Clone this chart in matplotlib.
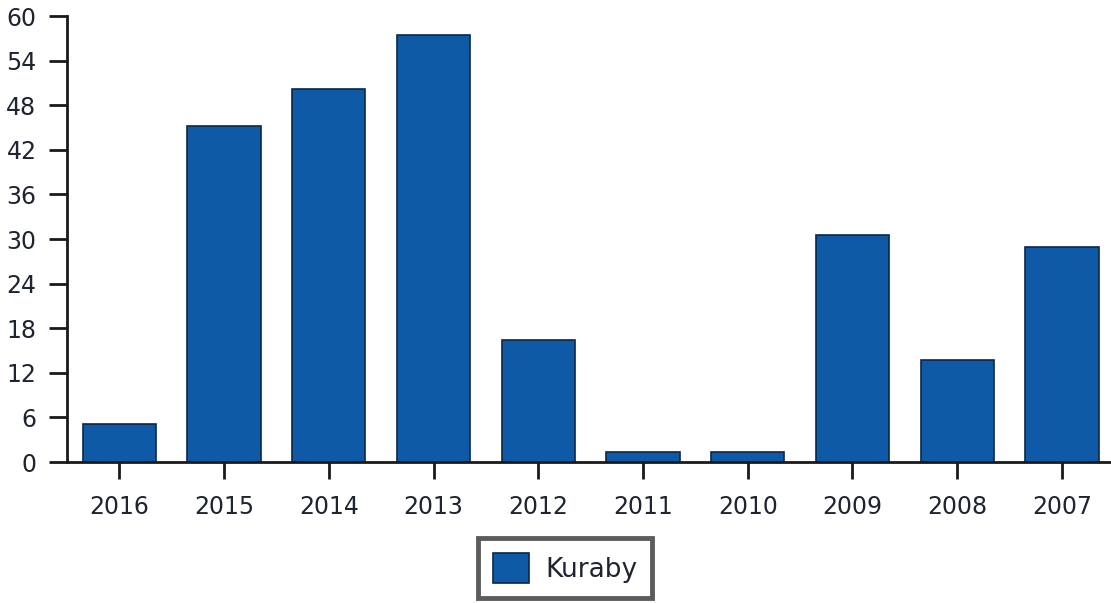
import matplotlib
matplotlib.use("Agg")
import matplotlib.pyplot as plt
import numpy as np

# dane
years = ["2016", "2015", "2014", "2013", "2012", "2011", "2010", "2009", "2008", "2007"]
values = [5.1, 45.2, 50.2, 57.5, 16.4, 1.3, 1.4, 30.5, 13.7, 28.9]
y_ticks = [0, 6, 12, 18, 24, 30, 36, 42, 48, 54, 60]
series_name = "Kuraby"

BAR_COLOR = "#0f5aa6"
EDGE_COLOR = "#0b2748"
TEXT_COLOR = "#1e2430"

fig = plt.figure(figsize=(11.11, 6.03), dpi=100)
ax = fig.add_axes([67 / 1111, 141 / 603, 1 - 67 / 1111 + 0.003, 446 / 603])

x = np.arange(len(years))
ax.bar(x, values, width=0.70, color=BAR_COLOR, edgecolor=EDGE_COLOR,
       linewidth=1.2, label=series_name, zorder=2)

ax.set_xlim(-0.5, len(years) - 0.5)
ax.set_ylim(0, 60)
ax.set_yticks(y_ticks)
ax.set_xticks(x)
ax.set_xticklabels(years)

for s in ["top", "right"]:
    ax.spines[s].set_visible(False)
for s in ["left", "bottom"]:
    ax.spines[s].set_linewidth(2)
    ax.spines[s].set_color("#1a1a1a")

ax.tick_params(axis="y", length=13, width=2, pad=9, labelsize=17,
               colors="#1a1a1a", labelcolor=TEXT_COLOR)
ax.tick_params(axis="x", length=12, width=2, pad=12, labelsize=17,
               colors="#1a1a1a", labelcolor=TEXT_COLOR)

leg = fig.legend(loc="center", bbox_to_anchor=(565 / 1111, 1 - 568 / 603),
                 fontsize=19, frameon=True, fancybox=False,
                 handlelength=1.4, handleheight=1.4, handletextpad=0.6,
                 borderpad=0.55, borderaxespad=0)
leg.get_frame().set_edgecolor("#333333")
leg.get_frame().set_linewidth(3.5)
for t in leg.get_texts():
    t.set_color(TEXT_COLOR)

fig.savefig("out.png", dpi=100)
